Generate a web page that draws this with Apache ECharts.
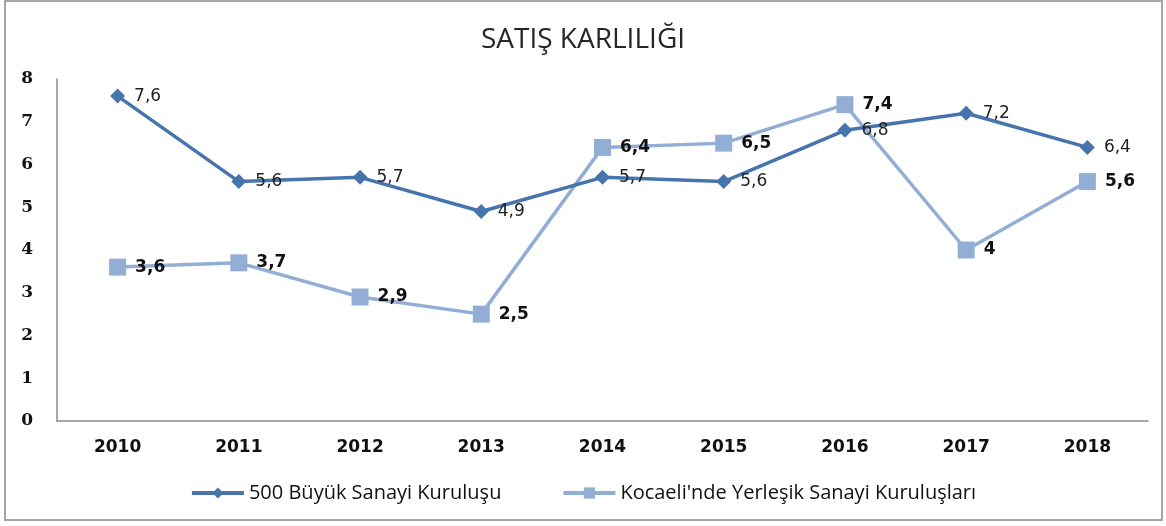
<!DOCTYPE html>
<html>
<head>
<meta charset="utf-8">
<script src="https://cdn.jsdelivr.net/npm/echarts@6/dist/echarts.min.js"></script>
<style>
  html, body { margin: 0; padding: 0; background: #fff; }
  #chart { width: 1166px; height: 526px; }
</style>
</head>
<body>
<div id="chart"></div>
<script>
var years = ['2010', '2011', '2012', '2013', '2014', '2015', '2016', '2017', '2018'];
var buyuk500 = [7.6, 5.6, 5.7, 4.9, 5.7, 5.6, 6.8, 7.2, 6.4];
var kocaeli = [3.6, 3.7, 2.9, 2.5, 6.4, 6.5, 7.4, 4.0, 5.6];
var yTicks = [0, 1, 2, 3, 4, 5, 6, 7, 8];

var fmt = function(p) { return String(p.value).replace('.', ','); };

var chart = echarts.init(document.getElementById('chart'));
chart.setOption({
    animation: false,
    backgroundColor: '#fff',
    graphic: [{
        type: 'rect',
        shape: { x: 5, y: 1, width: 1157, height: 519 },
        style: { fill: 'none', stroke: '#a6a6a6', lineWidth: 2 },
        silent: true
    }],
    title: {
        text: 'SATIŞ KARLILIĞI',
        left: 'center',
        top: 21,
        textStyle: { fontFamily: 'Open Sans', fontWeight: 'normal', fontSize: 28, color: '#262626' }
    },
    legend: {
        bottom: 18,
        left: 'center',
        itemWidth: 52,
        itemHeight: 14,
        itemGap: 60,
        lineStyle: { width: 4 },
        textStyle: { fontFamily: 'Open Sans', fontSize: 20, color: '#111' },
        data: ['500 Büyük Sanayi Kuruluşu', "Kocaeli'nde Yerleşik Sanayi Kuruluşları"]
    },
    grid: { left: 57, right: 18, top: 79, bottom: 105 },
    xAxis: {
        type: 'category',
        data: years,
        boundaryGap: true,
        axisLine: { lineStyle: { color: '#8c8c8c', width: 1.5 } },
        axisTick: { show: false },
        axisLabel: { margin: 18, fontFamily: 'DejaVu Sans', fontWeight: 'bold', fontSize: 17, color: '#111' }
    },
    yAxis: {
        type: 'value',
        min: yTicks[0],
        max: yTicks[yTicks.length - 1],
        interval: 1,
        splitLine: { show: false },
        axisLine: { show: true, lineStyle: { color: '#8c8c8c', width: 1.5 } },
        axisTick: { show: false },
        axisLabel: { margin: 24, fontFamily: 'DejaVu Serif', fontWeight: 'bold', fontSize: 17, color: '#111' }
    },
    series: [{
        name: '500 Büyük Sanayi Kuruluşu',
        type: 'line',
        data: buyuk500,
        symbol: 'diamond',
        symbolSize: 15,
        lineStyle: { color: '#4674ad', width: 3.5 },
        itemStyle: { color: '#4674ad' },
        label: {
            show: true,
            position: 'right',
            distance: 9,
            formatter: fmt,
            fontFamily: 'DejaVu Sans',
            fontSize: 17,
            color: '#222'
        },
        z: 3
    }, {
        name: "Kocaeli'nde Yerleşik Sanayi Kuruluşları",
        type: 'line',
        data: kocaeli,
        symbol: 'rect',
        symbolSize: 17,
        lineStyle: { color: '#93aed5', width: 3.5 },
        itemStyle: { color: '#93aed5' },
        label: {
            show: true,
            position: 'right',
            distance: 9,
            formatter: fmt,
            fontFamily: 'DejaVu Sans',
            fontWeight: 'bold',
            fontSize: 17,
            color: '#111'
        },
        z: 2
    }]
});
</script>
</body>
</html>
